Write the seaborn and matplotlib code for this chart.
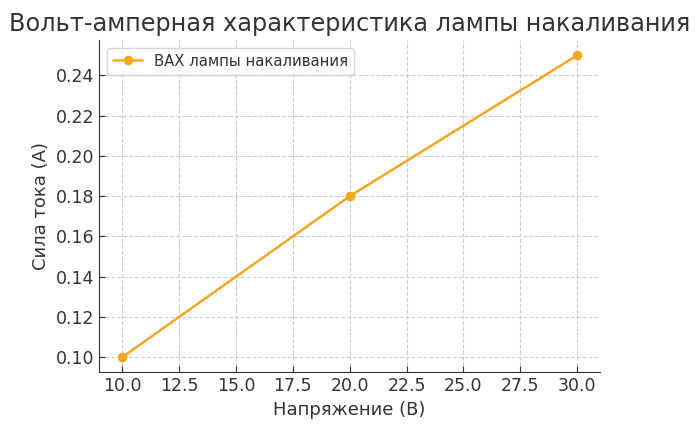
import matplotlib
matplotlib.use("Agg")
import matplotlib.pyplot as plt
import seaborn as sns
import pandas as pd

# Data
voltage = [10, 20, 30]
current = [0.10, 0.18, 0.25]
series_name = "ВАХ лампы накаливания"

df = pd.DataFrame({"voltage": voltage, "current": current})

sns.set_style("ticks")
plt.rcParams['font.family'] = ['DejaVu Sans']

fig, ax = plt.subplots(figsize=(7, 4.28), dpi=100)

sns.lineplot(x="voltage", y="current", data=df, marker="o", markersize=7,
             markeredgewidth=0, color="#f5a623", linewidth=1.8,
             label=series_name, ax=ax)

ax.set_title("Вольт-амперная характеристика лампы накаливания", fontsize=17.3, color="#333333", pad=7)
ax.set_xlabel("Напряжение (В)", fontsize=13, color="#333333")
ax.set_ylabel("Сила тока (А)", fontsize=13, color="#333333")
ax.set_xticks([10, 12.5, 15, 17.5, 20, 22.5, 25, 27.5, 30])
ax.xaxis.set_major_formatter(matplotlib.ticker.FormatStrFormatter('%.1f'))
ax.set_yticks([0.10, 0.12, 0.14, 0.16, 0.18, 0.20, 0.22, 0.24])
ax.yaxis.set_major_formatter(matplotlib.ticker.FormatStrFormatter('%.2f'))
ax.tick_params(direction="in", labelsize=12.5, colors="#333333", length=4)
ax.grid(True, linestyle="--", color="#cccccc", linewidth=0.8)
sns.despine(ax=ax)
for s in ["left", "bottom"]:
    ax.spines[s].set_color("#333333")

ax.legend(loc="upper left", fontsize=10.7, labelcolor="#333333")

plt.subplots_adjust(left=0.142, right=0.857, top=0.906, bottom=0.13)
fig.savefig("out.png", dpi=100)
